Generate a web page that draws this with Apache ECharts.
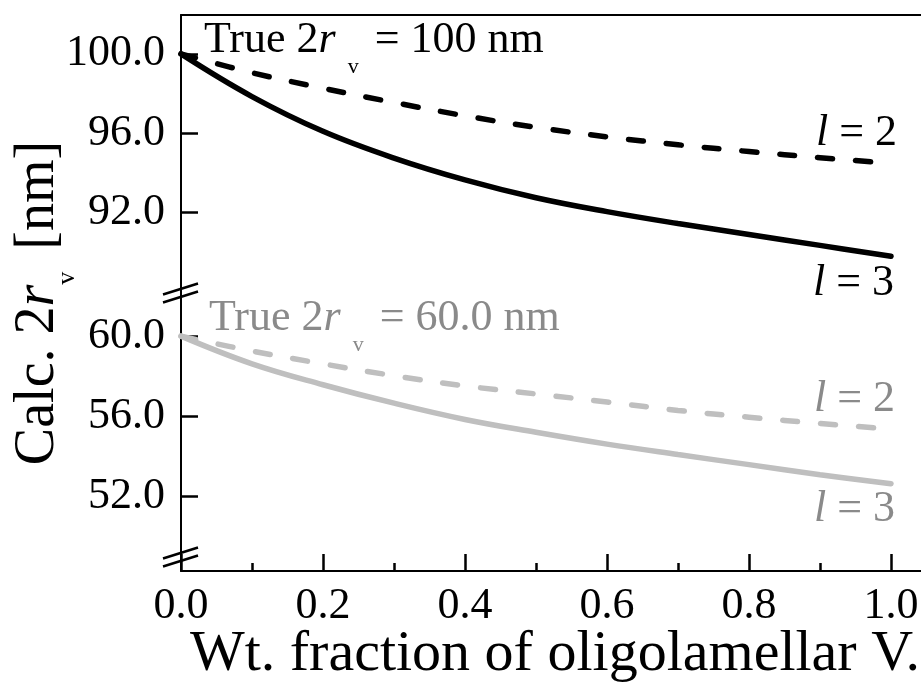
<!DOCTYPE html>
<html>
<head>
<meta charset="utf-8">
<script src="https://cdn.jsdelivr.net/npm/echarts@6/dist/echarts.min.js"></script>
<style>
  html, body { margin: 0; padding: 0; background: #fff; }
  #chart { width: 921px; height: 690px; }
</style>
</head>
<body>
<div id="chart"></div>
<script>
// Weight fraction of oligolamellar vesicles
const fractions = [0, 0.1, 0.2, 0.3, 0.4, 0.5, 0.6, 0.7, 0.8, 0.9, 1.0];

// Calculated 2r_v [nm] for a true diameter of 100 nm
const calc100_l2 = [100, 99.05, 98.27, 97.55, 96.88, 96.30, 95.82, 95.42, 95.08, 94.77, 94.48];
const calc100_l3 = [100, 97.85, 96.10, 94.75, 93.65, 92.75, 92.05, 91.45, 90.90, 90.35, 89.80];

// Calculated 2r_v [nm] for a true diameter of 60.0 nm
const calc60_l2 = [60, 59.26, 58.62, 58.03, 57.52, 57.12, 56.72, 56.30, 55.96, 55.65, 55.37];
const calc60_l3 = [60, 58.62, 57.58, 56.66, 55.85, 55.21, 54.62, 54.10, 53.60, 53.10, 52.65];

// Tick values
const xMajorTicks = [0, 0.2, 0.4, 0.6, 0.8, 1.0];
const xMinorTicks = [0.1, 0.3, 0.5, 0.7, 0.9];
const upperTicks = [92, 96, 100];
const lowerTicks = [52, 56, 60];

// Broken y axis: two stacked value ranges
const upperRange = [87.95, 101.96];
const lowerRange = [48.3, 62.15];
const lowerBreakValue = 49.0;

const SERIF = '"Liberation Serif", "Times New Roman", serif';
const BLACK = '#000';
const GRAY_LINE = '#bfbfbf';
const GRAY_TEXT = '#8a8a8a';

const pairs = ys => fractions.map((x, i) => [x, ys[i]]);

const chart = echarts.init(document.getElementById('chart'), null, { renderer: 'canvas' });

const yAxisCommon = (gridIndex, range, ticks) => ({
  type: 'value',
  gridIndex,
  min: range[0],
  max: range[1],
  axisLine: { show: true, onZero: false, lineStyle: { color: BLACK, width: 2 } },
  axisTick: { show: true, inside: true, length: 17, customValues: ticks, lineStyle: { color: BLACK, width: 2.5 } },
  axisLabel: {
    show: true, customValues: ticks, margin: 16,
    formatter: v => Number(v).toFixed(1),
    fontFamily: SERIF, fontSize: 44, color: BLACK, padding: [6, 0, 0, 0]
  },
  splitLine: { show: false }
});

const option = {
  animation: false,
  backgroundColor: '#fff',
  grid: [
    { left: 181, top: 15, width: 781, height: 278, outerBoundsMode: 'none', containLabel: false },
    { left: 181, top: 293, width: 781, height: 278, outerBoundsMode: 'none', containLabel: false }
  ],
  xAxis: [
    {
      type: 'value', gridIndex: 0, min: 0, max: 1.1, position: 'top',
      axisLine: { show: true, onZero: false, lineStyle: { color: BLACK, width: 2 } },
      axisTick: { show: false }, axisLabel: { show: false }, splitLine: { show: false }
    },
    {
      type: 'value', gridIndex: 1, min: 0, max: 1.1, position: 'bottom',
      axisLine: { show: true, onZero: false, lineStyle: { color: BLACK, width: 2 } },
      axisTick: { show: true, inside: true, length: 17, customValues: xMajorTicks, lineStyle: { color: BLACK, width: 2.5 } },
      axisLabel: {
        show: true, customValues: xMajorTicks, margin: 13,
        formatter: v => Number(v).toFixed(1),
        fontFamily: SERIF, fontSize: 44, color: BLACK
      },
      splitLine: { show: false }
    },
    {
      type: 'value', gridIndex: 1, min: 0, max: 1.1, position: 'bottom',
      axisLine: { show: false, onZero: false },
      axisTick: { show: true, inside: true, length: 8, customValues: xMinorTicks, lineStyle: { color: BLACK, width: 2.5 } },
      axisLabel: { show: false }, splitLine: { show: false }
    }
  ],
  yAxis: [
    yAxisCommon(0, upperRange, upperTicks),
    yAxisCommon(1, lowerRange, lowerTicks)
  ],
  series: [
    {
      name: '100 nm, l = 2', type: 'line', xAxisIndex: 0, yAxisIndex: 0,
      data: pairs(calc100_l2), showSymbol: false, smooth: 0.4,
      lineStyle: { color: BLACK, width: 5.5, type: [15, 23], cap: 'round' }
    },
    {
      name: '100 nm, l = 3', type: 'line', xAxisIndex: 0, yAxisIndex: 0,
      data: pairs(calc100_l3), showSymbol: false, smooth: 0.4,
      lineStyle: { color: BLACK, width: 5.5, cap: 'round' }
    },
    {
      name: '60.0 nm, l = 2', type: 'line', xAxisIndex: 1, yAxisIndex: 1,
      data: pairs(calc60_l2), showSymbol: false, smooth: 0.4,
      lineStyle: { color: GRAY_LINE, width: 5.5, type: [15, 23], cap: 'round' }
    },
    {
      name: '60.0 nm, l = 3', type: 'line', xAxisIndex: 1, yAxisIndex: 1,
      data: pairs(calc60_l3), showSymbol: false, smooth: 0.4,
      lineStyle: { color: GRAY_LINE, width: 5.5, cap: 'round' }
    }
  ]
};

chart.setOption(option);

// Rich-text styles shared by the annotations
const richStyles = (size, subSize, subPad, color) => ({
  n: { fontFamily: SERIF, fontSize: size, fill: color },
  i: { fontFamily: SERIF, fontSize: size, fontStyle: 'italic', fill: color },
  s: { fontFamily: SERIF, fontSize: subSize, fill: color, padding: subPad }
});

const textEl = (x, y, text, rich, align, rotation) => ({
  type: 'text', x, y, rotation: rotation || 0, z: 50,
  style: { text, rich, align, verticalAlign: 'middle', fill: '#000' }
});

const elements = [
  textEl(204, 40, '{n|True 2}{i|r}{s|v}{n| = 100 nm}', richStyles(44, 22, [55, 5, 0, 12], BLACK), 'left'),
  textEl(209, 318, '{n|True 2}{i|r}{s|v}{n| = 60.0 nm}', richStyles(44, 22, [55, 5, 0, 12], GRAY_TEXT), 'left'),
  textEl(897, 133, '{i|l}{n| = 2}', richStyles(44, 20, [0, 0, 0, 0], BLACK), 'right'),
  textEl(894, 283, '{i|l}{n| = 3}', richStyles(44, 20, [0, 0, 0, 0], BLACK), 'right'),
  textEl(895, 399, '{i|l}{n| = 2}', richStyles(44, 20, [0, 0, 0, 0], GRAY_TEXT), 'right'),
  textEl(895, 509, '{i|l}{n| = 3}', richStyles(44, 20, [0, 0, 0, 0], GRAY_TEXT), 'right'),
  // axis titles
  textEl(555, 655, '{n|Wt. fraction of oligolamellar V.}', richStyles(58, 20, [0, 0, 0, 0], BLACK), 'center'),
  textEl(38, 303, '{n|Calc. 2}{i|r}{s|v}{n| [nm]}', richStyles(56, 26, [58, 8, 0, 0], BLACK), 'center', Math.PI / 2)
];

// Axis-break marks: two short parallel slashes across the y axis
const axisX = chart.convertToPixel({ xAxisIndex: 1 }, 0);
const breakYs = [
  chart.convertToPixel({ yAxisIndex: 0 }, upperRange[0]),
  chart.convertToPixel({ yAxisIndex: 1 }, lowerBreakValue)
];
breakYs.forEach(py => {
  [-4, 4].forEach(d => {
    elements.push({
      type: 'line', z: 60,
      shape: { x1: axisX - 18, y1: py + d + 5.5, x2: axisX + 17, y2: py + d - 5.5 },
      style: { stroke: BLACK, lineWidth: 2.5 }
    });
  });
});

chart.setOption({ graphic: { elements } });
</script>
</body>
</html>
